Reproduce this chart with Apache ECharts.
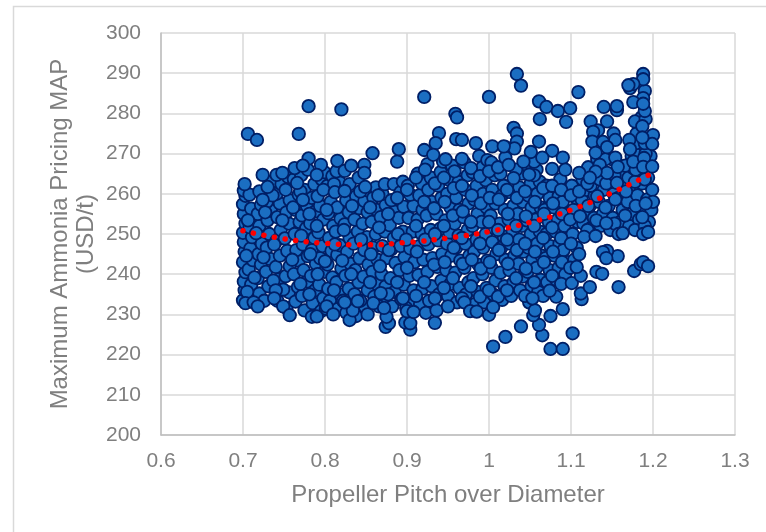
<!DOCTYPE html>
<html>
<head>
<meta charset="utf-8">
<script src="https://cdn.jsdelivr.net/npm/echarts@6/dist/echarts.min.js"></script>
<style>
html, body { margin: 0; padding: 0; background: #fff; }
#main { width: 766px; height: 532px; }
</style>
</head>
<body>
<div id="main"></div>
<script>
// outliers and edge points
var edgePoints = [
    [.78,281.8],[.82,281],[.706,274.9],[.717,273.4],[.768,274.9],[.702,262.4],[.724,264.7],[.741,264.7],[.748,265.2],[.73,261.7],
    [.78,268.8],[.763,266.4],[.773,267],[.795,267.2],[.815,268.2],[.824,265.7],[.832,267],[.848,267.2],[.848,265.2],[.849,261.7],
    [.766,262.7],[.79,264.7],[.798,261],[.812,260.4],[.824,260.7],[.773,258.5],[.724,258.5],
    [.703,232.8],[.713,233],[.718,232],[.74,236],[.738,234],[.749,232],[.757,229.8],[.784,229.4],[.79,229.5],[.802,232],[.81,230],
    [.83,228.6],[.834,231],[.84,233.3],[.824,233],[.852,230],[.859,232.8],[.874,226.9],[.878,227.8],[.875,229.4],[.872,231.6],
    [.904,226.2],[.898,228],[.904,227.8],[.9,230.8],[.908,230.6],[.923,230.4],[.934,227.9],[.936,231],[.95,232],[.97,233],[.977,230.8],
    [.985,230.7],[1,229.9],[1.005,231.8],[1.005,222],[1.02,224.4],[.895,234],[.934,234],[.868,235.3],
    [1.039,227],[1.065,224.8],[1.061,227.4],[1.054,229.8],[1.056,231],[1.075,221.4],[1.09,221.4],[1.102,225.3],[1.075,229.6],[1.09,231.3],
    [1.053,234],[1.082,234.4],[1.074,235.9],[1.113,233.8],[1.112,235.2],[1.123,236.8],[1.158,236.8],[1.101,237.8],[1.112,239.6],[1.107,241.8],
    [1.131,240.6],[1.138,240.1],[1.177,240.8],[1.185,242.5],[1.188,243],[1.194,242],[1.157,244.5],[1.144,245.8],[1.139,245.5],[1.143,244],
    [1.158,250],[1.163,250.2],[1.116,249.3],[1.13,249.5],[1.188,250],[1.194,250.5],[1.187,254.2],[1.143,252.7],
    [1.034,289.8],[1.039,286.9],[1.061,283],[1.07,281.6],[1.084,280.6],[1.099,281.3],[1.109,285.3],[1.094,277.9],[1.062,278.6],
    [1.188,289.8],[1.188,288.5],[1.172,286.3],[1.176,287.3],[1.17,287],[1.188,283.8],[1.176,282.8],[1.188,282.4],[1.14,281.6],[1.156,280.8],[1.156,281.8],
    [1.124,278],[1.144,278],[1.133,275.8],[1.127,275.4],[1.152,275],[1.154,273.4],[1.126,273],[1.139,272.9],[1.144,271.6],[1.13,270.2],
    [1.187,276.8],[1.2,274.6],[1.199,272.4],[1.171,273.4],[1.172,271.1],[1.187,274],[1.03,276.4],[1.034,275],[1.034,273],[1.02,271.6],[1.031,271.3],
    [1.061,273],[1.077,270.7],[1.09,269],[1.051,270.4],[1.065,269],[1.02,269],[1.042,268],[1.024,267.2],[1.077,266.2],[1.093,266],[1.049,264.8],[1.03,263.9],
    [1.11,265.2],[1.135,267.2],[1.157,266.7],[1.144,265.2],[1.13,265.5],[1.176,268],[1.189,268.9],[1.188,266.7],[1.199,266.8],[1.123,264],[1.156,262.7],
    [.921,284.1],[1,284.1],[.959,279.9],[.961,279],[.939,275.1],[.935,272.6],[.89,271.1],[.858,270.1],[.96,273.6],[.967,273.4],[.984,272.6],[1.004,271.8],[1.018,271.8],
    [.921,270.9],[.932,269.7],[.947,268.6],[.967,268.7]
];
// the dense cloud, read strip by strip from left to right
var cloudPoints = [
    [.70,233.5],[.702,236],[.701,238.2],[.703,240.5],[.70,243],[.702,245.6],[.701,248],[.70,250.3],[.703,252.6],[.701,255],[.70,257.4],[.703,259.5],[.701,260.8],
    [.708,234.4],[.71,237.4],[.707,241.2],[.712,243.5],[.709,246.4],[.711,249.2],[.708,251.7],[.712,254.1],[.71,256.3],[.708,259.8],
    [.72,235.2],[.718,239],[.722,242.4],[.719,245],[.723,247.6],[.72,252],[.718,255],[.722,257.2],[.72,260.6],
    [.731,237],[.728,240.6],[.733,243.8],[.729,246.6],[.732,250],[.73,253.4],[.734,255.8],[.729,258],[.735,263],
    [.742,233.4],[.744,238.8],[.74,241.8],[.745,244.6],[.741,248.4],[.746,251],[.742,254.2],[.745,257.6],[.741,260],[.747,262.4],
    [.753,231.6],[.756,235.5],[.752,239.5],[.757,242],[.754,245.8],[.751,248.9],[.756,252.6],[.753,255.4],[.757,258.4],[.752,261],[.755,264.2],
    [.764,233.2],[.767,236.8],[.762,240],[.768,243.4],[.765,246],[.763,250],[.769,253],[.764,256],[.768,259.8],[.762,263.6],
    [.775,231],[.772,234.6],[.778,238.2],[.774,241],[.779,244.5],[.773,247.4],[.777,251.4],[.772,254.6],[.778,257],[.775,261],[.771,264.6],[.779,266],
    [.785,232.8],[.788,236],[.783,239.6],[.789,242.6],[.784,246],[.787,249],[.782,252.6],[.788,255.6],[.784,259],[.787,262.4],
    [.795,230.8],[.798,234],[.793,237.4],[.799,240.6],[.794,244],[.797,247],[.792,250.4],[.798,253.6],[.794,257],[.796,263.6],[.799,265.4],
    [.806,233.4],[.804,236.4],[.809,239.2],[.803,242.4],[.808,245.8],[.805,249],[.81,252],[.804,255.2],[.807,258],[.803,262],[.809,264.4],
    [.816,231.4],[.819,235],[.814,238],[.82,241.4],[.815,244.8],[.818,247.2],[.813,250.6],[.819,253.8],[.815,256.6],[.818,262.8],[.814,265.6],
    [.826,230.4],[.829,236.4],[.825,239.6],[.831,242.6],[.827,245.6],[.83,249],[.824,252.4],[.829,255.4],[.826,258.4],[.83,262.4],
    [.838,229.6],[.836,235],[.841,238],[.837,241],[.842,244],[.835,247.6],[.84,250.6],[.836,253.6],[.842,256.4],[.838,259.4],[.841,264],
    [.849,231.8],[.852,236],[.847,239.4],[.853,242.4],[.848,246],[.851,249.2],[.846,252.6],[.852,255.4],[.848,258.2],[.853,260.8],
    [.86,234.4],[.863,237.6],[.858,240.6],[.864,243.6],[.859,246.6],[.862,250],[.857,253],[.863,256],[.859,259],[.862,261.6],
    [.871,233.6],[.874,237],[.869,240],[.875,244],[.87,247],[.873,250.6],[.868,254.2],[.874,257.2],[.87,260],[.873,262.4],
    [.882,232],[.885,235.6],[.88,239],[.886,242.8],[.881,246.2],[.884,249],[.879,252.2],[.885,255.6],[.881,258.4],[.884,262.4],[.888,268],
    [.893,233.8],[.896,237.4],[.891,241],[.897,244.2],[.892,247],[.895,250.6],[.89,254],[.896,256.8],[.892,260.4],[.895,263],
    [.905,233],[.908,236],[.903,239.6],[.909,243],[.904,246.4],[.907,250.6],[.902,254],[.908,257],[.904,259.8],[.901,262],
    [.916,232.6],[.919,236.4],[.914,239.8],[.92,243.6],[.915,247],[.918,250],[.913,253.6],[.919,256],[.915,259.6],[.918,262.6],[.913,265],
    [.927,233.4],[.93,237],[.925,240.6],[.931,244],[.926,247.4],[.929,251],[.924,254.6],[.93,258],[.926,261],[.929,264],[.925,267.4],
    [.939,235],[.942,238.4],[.937,241.8],[.943,245],[.938,248.4],[.941,251.4],[.936,255],[.942,259],[.938,262],[.941,265.4],[.944,268],
    [.95,234.6],[.953,237.6],[.948,241],[.954,244.6],[.949,247.6],[.952,250.4],[.947,253.4],[.953,256.6],[.949,260],[.952,263.4],[.955,267],
    [.961,233],[.964,236.6],[.959,240.4],[.965,243.4],[.96,246.6],[.963,249.6],[.958,252.6],[.964,256],[.96,259],[.963,263],[.958,265.6],
    [.972,235],[.975,238],[.97,241.6],[.976,244.6],[.971,247.6],[.974,251],[.969,254.2],[.975,257.6],[.971,261],[.974,264.6],[.97,267.8],
    [.983,232.6],[.986,235.6],[.981,239],[.987,242.4],[.982,245.6],[.985,248.6],[.98,252],[.986,255],[.982,258.6],[.985,262],[.98,265.4],[.988,269.4],
    [.994,233],[.997,236.6],[.992,240],[.998,243.4],[.993,246.6],[.996,250],[.991,253],[.997,256.6],[.993,260],[.996,263.4],[.992,266.6],[.998,268.4],
    [1.005,235],[1.008,238.4],[1.003,241.6],[1.009,245],[1.004,248],[1.007,251.4],[1.002,254.6],[1.008,257.6],[1.004,261],[1.007,264.6],[1.003,267.8],
    [1.016,233.6],[1.019,237],[1.014,240.4],[1.02,243.6],[1.015,246.6],[1.018,249.4],[1.013,252.6],[1.019,256],[1.015,259.4],[1.018,262],[1.014,265],
    [1.027,234.6],[1.03,238],[1.025,241],[1.031,244.6],[1.026,247.6],[1.029,250.6],[1.024,253.6],[1.03,257],[1.026,260.4],
    [1.038,236],[1.041,239.4],[1.036,242.6],[1.042,245.6],[1.037,248.6],[1.04,252],[1.035,255],[1.041,258],[1.037,261.6],[1.04,265],
    [1.049,233],[1.052,237],[1.047,240.6],[1.053,243.6],[1.048,246.6],[1.051,250],[1.046,253.4],[1.052,256.6],[1.048,259.6],[1.051,262.6],[1.047,267],
    [1.06,235.6],[1.063,238.6],[1.058,241.6],[1.064,244.6],[1.059,247.6],[1.062,250.6],[1.057,253.6],[1.063,256.6],[1.059,260],[1.062,263],[1.058,266],
    [1.071,238],[1.074,241],[1.069,244],[1.075,247],[1.07,250],[1.073,253],[1.068,256],[1.074,259],[1.07,262],
    [1.082,238.6],[1.085,241.6],[1.08,244.6],[1.086,247.6],[1.081,250.6],[1.084,253.6],[1.079,256.6],[1.085,259.4],[1.087,263.6],
    [1.093,240],[1.096,243],[1.091,246],[1.097,249],[1.092,252],[1.095,255],[1.09,258],[1.096,260.6],
    [1.104,243.6],[1.107,246.6],[1.102,250],[1.108,253],[1.103,256],[1.106,259],[1.101,262],
    [1.115,252.6],[1.118,255.6],[1.113,258.6],[1.119,261],[1.114,263.6],
    [1.125,251.6],[1.128,254],[1.123,257],[1.129,259.6],[1.124,262],
    [1.136,252],[1.139,255],[1.134,258],[1.14,261],[1.135,263.6],
    [1.148,251],[1.151,254],[1.146,257],[1.152,260],[1.147,263],[1.15,268.6],
    [1.16,253],[1.163,256],[1.158,259],[1.164,262],[1.159,265],
    [1.171,252],[1.174,255],[1.169,258],[1.175,261],[1.17,264],[1.174,269.4],[1.176,266.4],
    [1.183,253.6],[1.186,256.6],[1.181,259.6],[1.187,262.6],[1.182,265],[1.185,271],[1.186,279],
    [1.195,253],[1.198,256],[1.193,258.6],[1.199,261],[1.194,264],[1.197,269.4],[1.2,258]
];
// second pass over the cloud, the marks sitting between the first ones
var cloudFill = [
    [.705,235.6],[.704,244.6],[.706,253.4],[.714,239.2],[.716,250.2],[.726,233.4],[.725,244.2],[.727,255.4],[.737,238.4],[.738,247.4],[.736,259.6],
    [.749,236.2],[.748,253.4],[.76,243.6],[.761,256.6],[.77,237.6],[.771,249.6],[.77,260.6],[.781,235],[.782,245],[.781,255],[.791,240],[.79,252],[.791,259.4],
    [.801,231.4],[.8,243.2],[.802,256],[.811,236],[.812,247.4],[.811,262.4],[.822,233.4],[.821,243.4],[.823,251],[.832,240],[.833,257],[.843,233.4],[.844,248.6],[.843,260.6],
    [.855,238],[.856,245],[.855,256.6],[.866,232],[.867,242],[.866,251.6],[.865,259.6],[.877,235],[.878,246],[.877,255],[.888,238],[.889,250],[.888,259],
    [.899,231.6],[.9,241.6],[.899,248.6],[.9,261],[.911,234.6],[.912,245.6],[.911,252],[.911,264],[.921,238],[.922,248.6],[.921,258],[.922,266],
    [.933,242.4],[.934,250],[.933,256.4],[.934,262.6],[.945,236.6],[.946,243],[.945,252],[.946,258],[.945,264],[.956,239],[.957,246.6],[.956,254.6],[.957,261.4],
    [.967,234],[.968,242.6],[.967,249],[.968,255.6],[.967,262],[.978,237],[.979,243.6],[.978,253],[.979,259.6],[.978,266.4],[.989,234.4],[.99,241.4],[.989,247.6],[.99,257.6],[.989,264.4],
    [1,236],[1.001,243],[1,253],[1.001,259],[1,265.6],[1.011,234.4],[1.012,246],[1.011,251],[1.012,258.6],[1.011,266.6],[1.022,236],[1.023,242.6],[1.022,248.6],[1.023,255],[1.022,261],
    [1.033,239],[1.034,246],[1.033,252],[1.034,259],[1.033,266],[1.044,234.6],[1.045,241.4],[1.044,247.6],[1.045,254.4],[1.044,260.6],[1.055,238],[1.056,245.6],[1.055,252],[1.056,258],[1.055,264.6],[1.055,268],
    [1.066,234.6],[1.067,243],[1.066,249],[1.067,255],[1.066,261.4],[1.077,239.6],[1.078,245.6],[1.077,251.6],[1.078,257.6],[1.077,262],[1.088,237.6],[1.089,243],[1.088,249],[1.089,255],[1.088,261],
    [1.099,241.6],[1.1,247.6],[1.099,253.6],[1.1,259.6],[1.11,245],[1.111,254.4],[1.11,260.6],[1.12,251],[1.121,257],[1.12,262.6],[1.121,266.6],[1.131,253.4],[1.132,259.4],[1.132,268.6],[1.142,256.6],[1.143,262.6],[1.142,268.6],
    [1.153,252.6],[1.154,258.6],[1.153,264.6],[1.154,269],[1.166,254.6],[1.167,260.6],[1.166,267],[1.178,251],[1.179,257],[1.178,263],[1.179,266],[1.178,270],[1.179,272.6],[1.18,275],[1.178,278],
    [1.19,252],[1.191,257.6],[1.19,263.6],[1.191,270],[1.19,272.6],[1.191,278.6],[1.19,280.6],[1.19,285.6]
];
var trendPitch = [0.7, 0.75, 0.8, 0.85, 0.9, 0.95, 1, 1.05, 1.1, 1.15, 1.2];
var trendPrice = [250.8, 248.8, 247.7, 247.3, 247.9, 249, 250.6, 252.9, 256, 260.3, 265.2];
var xTicks = [0.6, 1.3, 0.1];
var yTicks = [200, 300, 10];
var xTitle = 'Propeller Pitch over Diameter';
var yTitle = 'Maximum Ammonia Pricing MAP\n(USD/t)';

var myChart = echarts.init(document.getElementById('main'));
var trend = trendPitch.map(function (p, i) { return [p, trendPrice[i]]; });
var option = {
    animation: false,
    textStyle: { fontFamily: 'Liberation Sans' },
    graphic: [{
        type: 'rect',
        shape: { x: 13.5, y: 6.5, width: 800, height: 600 },
        style: { fill: 'none', stroke: '#d9d9d9', lineWidth: 1.5 }
    }],
    grid: { left: 161, right: 31, top: 33, bottom: 97 },
    xAxis: {
        type: 'value', min: xTicks[0], max: xTicks[1], interval: xTicks[2],
        name: xTitle, nameLocation: 'middle', nameGap: 48, nameMoveOverlap: false,
        nameTextStyle: { color: '#7f7f7f', fontSize: 24 },
        axisLine: { show: true, onZero: false, lineStyle: { color: '#bfbfbf', width: 1.5 } },
        axisTick: { show: false },
        axisLabel: { color: '#7f7f7f', fontSize: 21, margin: 16,
            formatter: function (v) { return String(+v.toFixed(1)); } },
        splitLine: { show: true, lineStyle: { color: '#d9d9d9', width: 1.5 } }
    },
    yAxis: {
        type: 'value', min: yTicks[0], max: yTicks[1], interval: yTicks[2],
        name: yTitle, nameLocation: 'middle', nameRotate: 90, nameGap: 62, nameMoveOverlap: false,
        nameTextStyle: { color: '#7f7f7f', fontSize: 24, lineHeight: 26, align: 'center' },
        axisLine: { show: true, onZero: false, lineStyle: { color: '#bfbfbf', width: 1.5 } },
        axisTick: { show: false },
        axisLabel: { color: '#7f7f7f', fontSize: 21, margin: 20 },
        splitLine: { show: true, lineStyle: { color: '#d9d9d9', width: 1.5 } }
    },
    series: [
        {
            type: 'scatter', symbol: 'circle', symbolSize: 12.5,
            data: cloudPoints.concat(cloudFill, edgePoints),
            itemStyle: { color: '#1b6ec2', borderColor: '#001f66', borderWidth: 1.8, opacity: 1 },
            z: 2
        },
        {
            type: 'line', data: trend, smooth: true, showSymbol: false, symbol: 'none',
            lineStyle: { color: '#ff0000', width: 5.5, type: [0.1, 10.6], cap: 'round' },
            z: 3
        }
    ]
};
myChart.setOption(option);
</script>
</body>
</html>
